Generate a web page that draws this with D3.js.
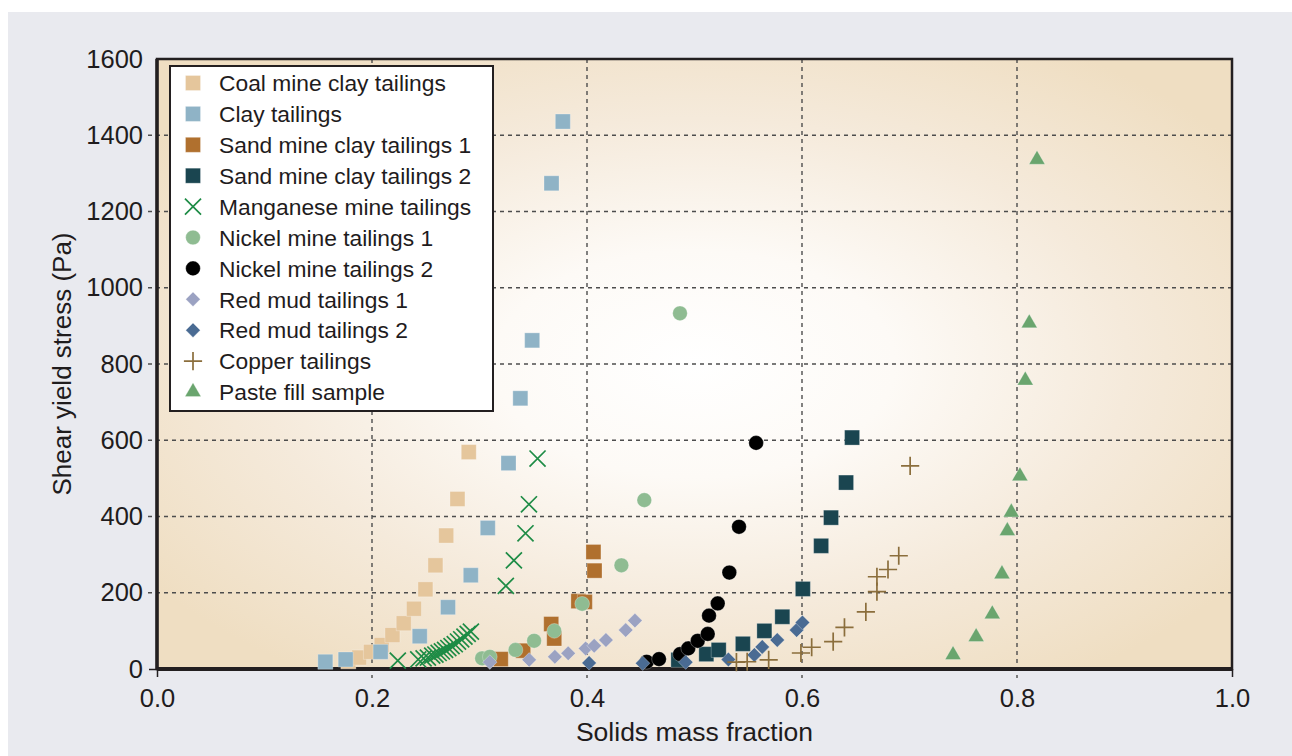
<!DOCTYPE html>
<html>
<head>
<meta charset="utf-8">
<script src="https://cdn.jsdelivr.net/npm/d3@7"></script>
<style>
  body { margin: 0; background: #fff; }
  text { font-family: "Liberation Sans", Arial, Helvetica, sans-serif; fill: #1f1c1d; }
</style>
</head>
<body>
<div id="chart"></div>
<script>
const seriesNames = [
  'Coal mine clay tailings', 'Clay tailings', 'Sand mine clay tailings 1', 'Sand mine clay tailings 2',
  'Manganese mine tailings', 'Nickel mine tailings 1', 'Nickel mine tailings 2', 'Red mud tailings 1',
  'Red mud tailings 2', 'Copper tailings', 'Paste fill sample'
];

// [solids mass fraction, shear yield stress]
const coalMineClay = [[0.178, 20], [0.188, 30], [0.199, 45], [0.209, 63], [0.219, 89], [0.2295, 120], [0.239, 158], [0.2497, 209], [0.259, 272], [0.269, 350], [0.2795, 446], [0.290, 569]];
const clayTailings = [[0.1566, 19], [0.1755, 25], [0.208, 45], [0.2444, 86], [0.2707, 162], [0.2919, 246], [0.3077, 370], [0.327, 540], [0.338, 710], [0.349, 862], [0.367, 1274], [0.3775, 1436]];
const sandMineClay1 = [[0.3198, 26], [0.3406, 48], [0.3667, 118], [0.3695, 80], [0.392, 178], [0.398, 176], [0.406, 307], [0.407, 258]];
const sandMineClay2 = [[0.485, 24], [0.511, 39], [0.5225, 50], [0.545, 66], [0.565, 100], [0.5817, 137], [0.6008, 210], [0.6178, 323], [0.627, 397], [0.641, 489], [0.6466, 607]];
const manganese = [[0.224, 22], [0.243, 25], [0.248, 28], [0.252, 30], [0.256, 35], [0.259, 38], [0.262, 42], [0.265, 46], [0.268, 50], [0.271, 55], [0.274, 60], [0.277, 65], [0.280, 72], [0.283, 78], [0.286, 85], [0.289, 92], [0.292, 98], [0.3245, 218], [0.332, 285], [0.3428, 356], [0.346, 432], [0.354, 552]];
const nickel1 = [[0.3024, 28], [0.3096, 32], [0.3335, 50], [0.3508, 74], [0.3696, 100], [0.3955, 171], [0.432, 272], [0.4533, 443], [0.4865, 933]];
const nickel2 = [[0.4555, 19], [0.467, 26], [0.4865, 39], [0.4942, 54], [0.503, 74], [0.5123, 92], [0.5135, 140], [0.5216, 172], [0.5324, 253], [0.5414, 373], [0.5573, 593]];
const redMud1 = [[0.3096, 18], [0.3462, 24], [0.3701, 32], [0.3825, 41], [0.3987, 54], [0.4067, 61], [0.4176, 76], [0.436, 102], [0.4446, 127]];
const redMud2 = [[0.402, 16], [0.4518, 15], [0.4918, 18], [0.5315, 25], [0.5557, 37], [0.563, 58], [0.577, 76], [0.595, 102], [0.6004, 122]];
const copper = [[0.539, 18], [0.549, 19], [0.569, 24], [0.599, 42], [0.609, 57], [0.629, 72], [0.6395, 109], [0.6594, 150], [0.6697, 203], [0.6697, 242], [0.68, 261], [0.69, 297], [0.7006, 533]];
const pasteFill = [[0.7405, 37], [0.762, 84], [0.777, 144], [0.786, 249], [0.791, 362], [0.7947, 411], [0.8027, 506], [0.8077, 757], [0.8114, 907], [0.8186, 1336]];

const xTicks = [0.0, 0.2, 0.4, 0.6, 0.8, 1.0];
const yTicks = [0, 200, 400, 600, 800, 1000, 1200, 1400, 1600];

const seriesData = [coalMineClay, clayTailings, sandMineClay1, sandMineClay2, manganese, nickel1, nickel2, redMud1, redMud2, copper, pasteFill];
const colors = ['#e5c69c', '#8fb3c6', '#b0702e', '#1a4550', '#1e8c46', '#8fbc92', '#000000', '#9ba2c2', '#4a6b93', '#8b6e3c', '#6aa56e'];
const shapes = ['square', 'square', 'square', 'square', 'times', 'circle', 'circle', 'diamond', 'diamond', 'plus', 'triangle'];

const width = 1292;
const height = 756;
const margin = { top: 59, right: 60, bottom: 87, left: 157 };
const innerW = width - margin.left - margin.right;
const innerH = height - margin.top - margin.bottom;

const svg = d3.select('#chart').append('svg').attr('width', width).attr('height', height);

// outer panel
svg.append('rect').attr('x', 8).attr('y', 12).attr('width', width - 8).attr('height', height - 12).attr('fill', '#e9eaef');

const defs = svg.append('defs');
const grad = defs.append('radialGradient').attr('id', 'bg').attr('cx', '0.5').attr('cy', '0.5').attr('r', '0.62');
grad.append('stop').attr('offset', '0').attr('stop-color', '#ffffff');
grad.append('stop').attr('offset', '0.3').attr('stop-color', '#fdfaf6');
grad.append('stop').attr('offset', '0.65').attr('stop-color', '#f5eadb');
grad.append('stop').attr('offset', '1').attr('stop-color', '#efdec2');

const g = svg.append('g').attr('transform', `translate(${margin.left}, ${margin.top})`);

const xScale = d3.scaleLinear().domain([0, 1]).range([0, innerW]);
const yScale = d3.scaleLinear().domain([0, 1600]).range([innerH, 0]);

g.append('rect').attr('width', innerW).attr('height', innerH).attr('fill', 'url(#bg)');

// grid
g.append('g')
  .selectAll('line')
  .data(xTicks.filter((d) => d > 0 && d < 1))
  .join('line')
  .attr('x1', (d) => xScale(d)).attr('x2', (d) => xScale(d))
  .attr('y1', 0).attr('y2', innerH + 9)
  .attr('stroke', '#4d4d4d').attr('stroke-width', 1.4).attr('stroke-dasharray', '4,4');

g.append('g')
  .selectAll('line')
  .data(yTicks.filter((d) => d > 0 && d < 1600))
  .join('line')
  .attr('x1', -9).attr('x2', innerW)
  .attr('y1', (d) => yScale(d)).attr('y2', (d) => yScale(d))
  .attr('stroke', '#4d4d4d').attr('stroke-width', 1.4).attr('stroke-dasharray', '4,4');

// axes
const xAxis = d3.axisBottom(xScale).tickValues(xTicks).tickFormat(d3.format('.1f')).tickSize(8).tickPadding(12);
const xAxisGroup = g.append('g').attr('transform', `translate(0, ${innerH})`).call(xAxis);
xAxisGroup.select('.domain').remove();
xAxisGroup.selectAll('.tick line').attr('stroke', '#231f20').attr('stroke-width', 1.5)
  .attr('opacity', (d) => (d === 0 || d === 1 ? 1 : 0));
xAxisGroup.selectAll('.tick text').attr('font-size', 25.5).attr('fill', '#1f1c1d');

const yAxis = d3.axisLeft(yScale).tickValues(yTicks).tickFormat(d3.format('d')).tickSize(8).tickPadding(6);
const yAxisGroup = g.append('g').call(yAxis);
yAxisGroup.select('.domain').remove();
yAxisGroup.selectAll('.tick line').attr('stroke', '#231f20').attr('stroke-width', 1.5)
  .attr('opacity', (d) => (d === 0 ? 1 : 0));
yAxisGroup.selectAll('.tick text').attr('font-size', 25.5).attr('fill', '#1f1c1d');

// frame
g.append('rect').attr('width', innerW).attr('height', innerH).attr('fill', 'none').attr('stroke', '#231f20').attr('stroke-width', 2.5);
g.append('line').attr('x1', 0).attr('x2', innerW).attr('y1', innerH).attr('y2', innerH).attr('stroke', '#231f20').attr('stroke-width', 4);
g.append('line').attr('x1', 0).attr('x2', 0).attr('y1', 0).attr('y2', innerH).attr('stroke', '#231f20').attr('stroke-width', 3.5);

svg.append('text')
  .attr('x', margin.left + innerW / 2).attr('y', 741)
  .attr('text-anchor', 'middle').attr('font-size', 26.5)
  .text('Solids mass fraction');

svg.append('text')
  .attr('transform', `translate(71, ${margin.top + innerH / 2}) rotate(-90)`)
  .attr('text-anchor', 'middle').attr('font-size', 26)
  .text('Shear yield stress (Pa)');

// markers
const symbolFor = (shape) => {
  if (shape === 'square') return d3.symbol(d3.symbolSquare, 225)();
  if (shape === 'circle') return d3.symbol(d3.symbolCircle, 170)();
  if (shape === 'diamond') return d3.symbol(d3.symbolSquare, 105)();
  if (shape === 'triangle') return d3.symbol(d3.symbolTriangle, 110)();
  if (shape === 'plus') return d3.symbol(d3.symbolPlus, 110)();
  return d3.symbol(d3.symbolTimes, 170)();
};
const isStroke = (shape) => shape === 'plus' || shape === 'times';

const drawMarker = (sel, i, x, y) => {
  const shape = shapes[i];
  const rot = shape === 'diamond' ? ' rotate(45)' : '';
  sel.attr('d', symbolFor(shape))
    .attr('transform', `translate(${x}, ${y})${rot}`)
    .attr('fill', isStroke(shape) ? 'none' : colors[i])
    .attr('stroke', isStroke(shape) ? colors[i] : 'rgba(255,255,255,0.35)')
    .attr('stroke-width', isStroke(shape) ? 1.7 : 0.8);
};

const points = g.append('g');
seriesData.forEach((data, i) => {
  points.append('g')
    .selectAll('path')
    .data(data)
    .join('path')
    .each(function (d) {
      drawMarker(d3.select(this), i, xScale(d[0]), yScale(d[1]));
    });
});

// legend
const legend = svg.append('g').attr('transform', 'translate(170, 66)');
legend.append('rect').attr('width', 323).attr('height', 345).attr('fill', '#ffffff').attr('stroke', '#231f20').attr('stroke-width', 2);
const rowScale = d3.scalePoint().domain(seriesNames).range([17, 326]);
seriesNames.forEach((name, i) => {
  legend.append('path').call(drawMarker, i, 23, rowScale(name));
  legend.append('text')
    .attr('x', 49).attr('y', rowScale(name)).attr('dy', '0.36em')
    .attr('font-size', 22.8)
    .text(name);
});
</script>
</body>
</html>
